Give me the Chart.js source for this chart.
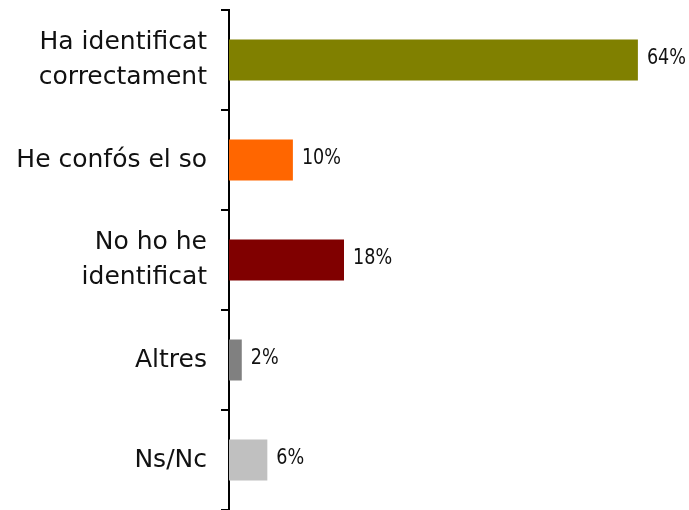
<!DOCTYPE html>
<html>
<head>
<meta charset="utf-8">
<script src="https://cdn.jsdelivr.net/npm/chart.js@4/dist/chart.umd.min.js"></script>
<style>
  html, body { margin: 0; padding: 0; background: #fff; }
  #wrap { width: 689px; height: 510px; position: relative; }
</style>
</head>
<body>
<div id="wrap"><canvas id="c"></canvas></div>
<script>
// Survey answers (percent of respondents)
const categories = [
  ["Ha identificat", "correctament"],
  "He confós el so",
  ["No ho he", "identificat"],
  "Altres",
  "Ns/Nc"
];
const values = [64, 10, 18, 2, 6];
const barColors = ["#808000", "#FF6600", "#800000", "#808080", "#C0C0C0"];

const FONT = '"Century Gothic", "URW Gothic", "DejaVu Sans", sans-serif';

// Writes the percentage just past the end of each bar (slightly condensed)
const valueLabels = {
  id: "valueLabels",
  afterDatasetsDraw(chart) {
    const ctx = chart.ctx;
    const meta = chart.getDatasetMeta(0);
    meta.data.forEach((bar, i) => {
      ctx.save();
      ctx.translate(bar.x + 9, bar.y + 4);
      ctx.scale(0.8, 1);
      ctx.font = "22px " + FONT;
      ctx.fillStyle = "#111";
      ctx.textAlign = "left";
      ctx.textBaseline = "alphabetic";
      ctx.fillText(values[i] + "%", 0, 0);
      ctx.restore();
    });
  }
};

new Chart(document.getElementById("c"), {
  type: "bar",
  data: {
    labels: categories,
    datasets: [{
      data: values,
      backgroundColor: barColors,
      borderWidth: 0,
      barPercentage: 0.41,
      categoryPercentage: 1.0
    }]
  },
  options: {
    indexAxis: "y",
    responsive: true,
    maintainAspectRatio: false,
    animation: false,
    layout: { padding: { top: 10, right: 0, bottom: 0, left: 0 } },
    plugins: {
      legend: { display: false },
      tooltip: { enabled: false }
    },
    scales: {
      x: {
        display: false,
        min: 0,
        max: 72
      },
      y: {
        offset: true,
        afterFit(scale) {
          scale.width = 229;
          scale.paddingTop = 0;
          scale.paddingBottom = 0;
        },
        border: { display: true, color: "#000", width: 2 },
        grid: {
          offset: true,
          drawOnChartArea: false,
          drawTicks: true,
          tickLength: 8,
          color: "#000",
          lineWidth: 2
        },
        ticks: {
          padding: 14,
          color: "#111",
          font: { family: FONT, size: 25, lineHeight: 1.42 }
        }
      }
    }
  },
  plugins: [valueLabels]
});
</script>
</body>
</html>
